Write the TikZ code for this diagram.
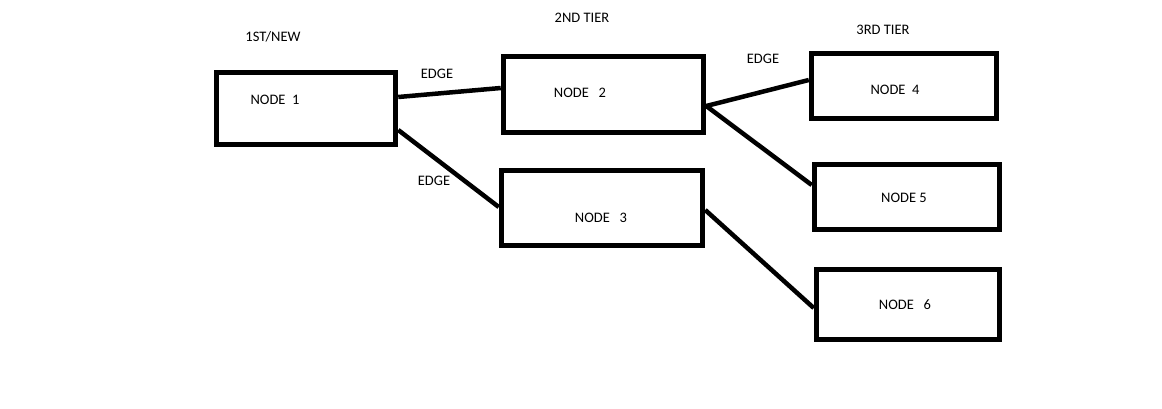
\documentclass[tikz,border=0pt]{standalone}
\usepackage{fontspec}
\setmainfont{Carlito}
\usetikzlibrary{positioning}

\begin{document}
\begin{tikzpicture}[x=1pt, y=-1pt,
        tierbox/.style={draw, line width=5.5pt, inner sep=0pt},
        lbl/.style={inner sep=0pt, font=\fontsize{14.5}{16}\selectfont},
        edge/.style={line width=4.5pt}]
        \useasboundingbox (0,0) rectangle (1162,408);

        % Draw boxes
        \node[tierbox, minimum width=179pt, minimum height=72pt] (n1) at (306,108.5) {};
        \node[tierbox, minimum width=200pt, minimum height=76pt] (n2) at (603.5,94.5) {};
        \node[tierbox, minimum width=201pt, minimum height=75pt] (n3) at (602,208) {};
        \node[tierbox, minimum width=185pt, minimum height=65pt] (n4) at (904,86) {};
        \node[tierbox, minimum width=185pt, minimum height=65pt] (n5) at (907,197) {};
        \node[tierbox, minimum width=183pt, minimum height=70pt] (n6) at (908,304.5) {};

        % Box texts
        \node[lbl] (t1) at (275,99.7) {NODE\ \ 1};
        \node[lbl] (t2) at (580,92.5) {NODE\ \ \ 2};
        \node[lbl] (t3) at (601,218) {NODE\ \ \ 3};
        \node[lbl] (t4) at (895,90) {NODE\ \ 4};
        \node[lbl] (t5) at (904,198) {NODE 5};
        \node[lbl] (t6) at (905,305) {NODE\ \ \ 6};

        % Tier titles
        \node[lbl] (tier1) at (273,37) {1ST/NEW};
        \node[lbl] (tier2) at (582,18) {2ND TIER};
        \node[lbl] (tier3) at (883,29.7) {3RD TIER};

        % Draw edges
        \coordinate (fork) at ([yshift=-11.5pt]n2.east);
        \draw[edge] ([yshift=11.5pt]n1.east) -- ([yshift=6.5pt]n2.west);
        \draw[edge] ([yshift=-21.5pt]n1.east) -- ([yshift=1pt]n3.west);
        \draw[edge] (fork) -- ([yshift=6pt]n4.west);
        \draw[edge] (fork) -- ([yshift=12pt]n5.west);
        \draw[edge] ([yshift=-2pt]n3.east) -- ([yshift=-3.5pt]n6.west);

        % Edge labels
        \node[lbl] (e12) at (437,73.7) {EDGE};
        \node[lbl] (e13) at (434,180.5) {EDGE};
        \node[lbl] (e24) at (763,59) {EDGE};
    \end{tikzpicture}
\end{document}
